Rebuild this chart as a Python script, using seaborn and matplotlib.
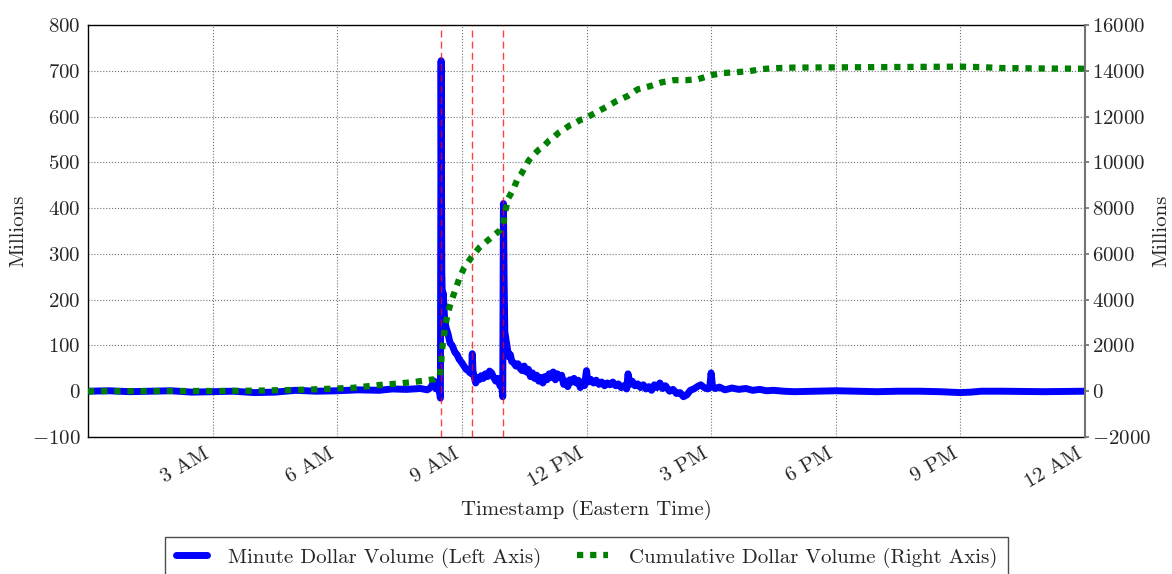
import matplotlib
matplotlib.use("Agg")
import matplotlib.pyplot as plt
import seaborn as sns

# minute dollar volume (millions)
MINUTE_TIMES = [
    "00:00", "00:30", "01:00", "01:30", "02:00", "02:30", "03:00", "03:30", "04:00", "04:30",
    "05:00", "05:30", "06:00", "06:30", "07:00", "07:20", "07:40", "08:00", "08:10", "08:15",
    "08:20", "08:23", "08:26", "08:28", "08:29",
    "08:30", "08:31", "08:32", "08:33", "08:35", "08:37", "08:40", "08:43", "08:46", "08:50",
    "08:53", "08:56", "09:00", "09:03", "09:06", "09:09", "09:12", "09:14", "09:15", "09:16",
    "09:18", "09:20", "09:22", "09:25", "09:28",
    "09:31", "09:34", "09:37", "09:40", "09:43", "09:46", "09:49", "09:52", "09:55", "09:58",
    "09:59", "10:00", "10:01", "10:02", "10:04", "10:06", "10:08", "10:10", "10:12", "10:15",
    "10:18", "10:21", "10:24", "10:27", "10:30",
    "10:33", "10:36", "10:39", "10:42", "10:45", "10:48", "10:51", "10:54", "10:57", "11:00",
    "11:03", "11:06", "11:09", "11:12", "11:15", "11:18", "11:21", "11:24", "11:27", "11:30",
    "11:33", "11:36", "11:39", "11:42", "11:45",
    "11:48", "11:51", "11:54", "11:57", "12:00", "12:02", "12:06", "12:10", "12:14", "12:18",
    "12:22", "12:26", "12:30", "12:34", "12:38", "12:42", "12:46", "12:50", "12:54", "12:58",
    "13:00", "13:03", "13:06", "13:10", "13:14",
    "13:18", "13:22", "13:26", "13:30", "13:34", "13:38", "13:42", "13:46", "13:50", "13:54",
    "14:00", "14:05", "14:10", "14:15", "14:20", "14:25", "14:30", "14:35", "14:40", "14:45",
    "14:50", "14:55", "14:58", "15:00", "15:02",
    "15:06", "15:12", "15:20", "15:30", "15:40", "15:50", "16:00", "16:10", "16:20", "16:30",
    "16:45", "17:00", "17:30", "18:00", "18:30", "19:00", "19:30", "20:00", "20:30", "21:00",
    "21:15", "21:30", "22:00", "23:00", "24:00",
]
MINUTE_VOLUME = [
    0, 1, -1, 0, 1, -2, -1, 0, -3, -2,
    2, 0, 1, 3, 2, 5, 4, 6, 3, 8,
    22, 5, 10, -5, -15,
    722, 260, 190, 215, 160, 140, 125, 105, 100, 85,
    80, 70, 62, 55, 48, 45, 40, 38, 82, 45,
    30, 18, 30, 25, 34,
    28, 38, 32, 44, 40, 30, 22, 28, 12, 8,
    -12, 410, 240, 130, 110, 90, 75, 80, 65, 62,
    55, 60, 50, 45, 55,
    42, 48, 32, 40, 28, 35, 22, 30, 18, 32,
    25, 38, 30, 42, 25, 38, 30, 35, 15, 22,
    10, 25, 20, 28, 18,
    24, 8, 20, 12, 45, 20, 26, 18, 24, 15,
    20, 12, 18, 14, 20, 12, 16, 8, 12, 5,
    38, 15, 22, 12, 16,
    8, 14, 5, 10, 2, 14, 8, 18, 6, 12,
    0, 4, -5, -3, -12, -8, 2, 5, 10, 14,
    8, 5, 8, 40, 10,
    6, 9, 3, 7, 4, 6, 2, 4, 1, 2,
    0, -1, 0, 1, 0, -1, 0, 0, -1, -3,
    -2, 0, 0, -1, 0,
]

# cumulative dollar volume (millions)
CUM_TIMES = [
    "00:00", "01:00", "02:00", "03:00", "04:00", "05:00", "05:25", "06:00", "06:23", "07:00",
    "07:30", "07:55", "08:14", "08:20", "08:28", "08:30", "08:31", "08:33", "08:36", "08:39",
    "08:44", "08:50", "08:56", "09:03", "09:14",
    "09:26", "09:41", "09:55", "10:00", "10:02", "10:07", "10:14", "10:20", "10:25", "10:31",
    "10:37", "10:43", "10:51", "10:57", "11:06", "11:11", "11:20", "11:26", "11:35", "11:41",
    "11:51", "11:56", "12:12", "12:28", "12:43",
    "12:59", "13:14", "13:32", "13:49", "14:06", "14:24", "14:41", "15:00", "15:17", "15:36",
    "15:55", "16:12", "16:28", "17:00", "18:00", "19:00", "20:00", "21:00", "21:30", "22:00",
    "23:00", "24:00",
]
CUM_VOLUME = [
    0, 5, 10, 10, 25, 55, 80, 120, 150, 270,
    340, 420, 500, 520, 630, 1140, 1680, 2240, 2800, 3330,
    3870, 4380, 4900, 5380, 5860,
    6300, 6680, 7030, 7300, 7770, 8430, 8800, 9250, 9450, 9780,
    10100, 10310, 10550, 10670, 10950, 11050, 11300, 11410, 11600, 11670,
    11850, 11890, 12150, 12410, 12670,
    12890, 13190, 13330, 13500, 13590, 13590, 13630, 13810, 13900, 13940,
    13980, 14070, 14110, 14140, 14150, 14160, 14170, 14180, 14160, 14120,
    14100, 14090,
]

EVENT_TIMES = ["08:30", "09:15", "10:00"]

XTICK_HOURS = [3, 6, 9, 12, 15, 18, 21, 24]
XTICK_LABELS = ["3 AM", "6 AM", "9 AM", "12 PM", "3 PM", "6 PM", "9 PM", "12 AM"]


def to_hours(stamps):
    return [int(s[:2]) + int(s[3:]) / 60 for s in stamps]


sns.set_theme(style="white")
plt.rcParams["font.family"] = ["cmr10", "DejaVu Serif"]
plt.rcParams["mathtext.fontset"] = "cm"
plt.rcParams["axes.formatter.use_mathtext"] = True
plt.rcParams.update({
    "font.size": 15,
    "xtick.labelsize": 15,
    "ytick.labelsize": 15,
    "axes.labelsize": 15,
    "legend.fontsize": 15,
})

fig = plt.figure(figsize=(11.72, 5.74), dpi=100)
ax = fig.add_axes([88 / 1172, 137 / 574, 997 / 1172, 412 / 574])
ax2 = ax.twinx()

sns.lineplot(x=to_hours(MINUTE_TIMES), y=MINUTE_VOLUME, ax=ax, color="blue",
             linewidth=5, label="Minute Dollar Volume (Left Axis)", legend=False)
for t in to_hours(EVENT_TIMES):
    ax.axvline(t, color="red", linestyle=(0, (5, 3)), linewidth=1, alpha=0.75, zorder=3)

sns.lineplot(x=to_hours(CUM_TIMES), y=CUM_VOLUME, ax=ax2, color="green",
             linewidth=4.5, linestyle=(0, (1, 1.1)),
             label="Cumulative Dollar Volume (Right Axis)", legend=False)

ax.set_xlim(0, 24)
ax.set_ylim(-100, 800)
ax2.set_ylim(-2000, 16000)
ax.set_yticks(range(-100, 801, 100))
ax2.set_yticks(range(-2000, 16001, 2000))
ax.set_xticks(XTICK_HOURS)
ax.set_xticklabels(XTICK_LABELS, rotation=30, ha="right")

ax.grid(True, color="0.45", linestyle=":", linewidth=0.8)
ax2.grid(False)
ax.tick_params(length=0, pad=5.5)
ax2.tick_params(axis="y", length=3, direction="out", color="0.45", pad=2)

ax.spines["right"].set_visible(False)
for s in ["left", "top", "bottom"]:
    ax.spines[s].set_color("black")
    ax.spines[s].set_linewidth(1)
for s in ["left", "top", "bottom"]:
    ax2.spines[s].set_visible(False)
ax2.spines["right"].set_color("0.45")
ax2.spines["right"].set_linewidth(1.5)

ax.set_ylabel("Millions", labelpad=3)
ax2.set_ylabel("Millions", labelpad=1)
ax.set_xlabel("Timestamp (Eastern Time)", labelpad=6)

handles = [ax.get_lines()[0], ax2.get_lines()[0]]
fig.legend(handles, [h.get_label() for h in handles], loc="upper center",
           bbox_to_anchor=(586.5 / 1172, 1 - 537 / 574), ncol=2, frameon=True,
           fancybox=False, edgecolor="0.3", framealpha=1, handlelength=1.5,
           handletextpad=1.0, columnspacing=1.7, borderpad=0.5, borderaxespad=0)

fig.savefig("out.png", dpi=100)
